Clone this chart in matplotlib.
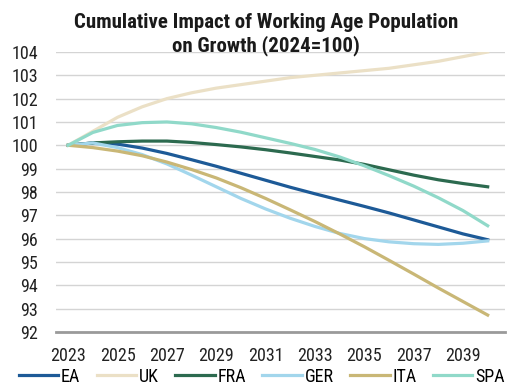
import matplotlib
matplotlib.use("Agg")
import matplotlib.pyplot as plt

years = list(range(2023, 2041))

ea = [100, 100.1, 100.05, 99.88, 99.65, 99.38, 99.1, 98.8, 98.5, 98.2,
      97.92, 97.65, 97.38, 97.1, 96.8, 96.5, 96.2, 95.95]
uk = [100, 100.6, 101.2, 101.65, 102.0, 102.25, 102.45, 102.6, 102.75, 102.9,
      103.0, 103.1, 103.2, 103.3, 103.45, 103.6, 103.8, 104.0]
fra = [100, 100.1, 100.15, 100.18, 100.18, 100.12, 100.03, 99.93, 99.81, 99.67,
       99.52, 99.37, 99.18, 98.95, 98.72, 98.52, 98.36, 98.22]
ger = [100, 100.1, 99.9, 99.6, 99.2, 98.72, 98.22, 97.72, 97.27, 96.87,
       96.52, 96.22, 96.0, 95.86, 95.78, 95.75, 95.8, 95.9]
ita = [100, 99.9, 99.75, 99.55, 99.28, 98.96, 98.6, 98.18, 97.72, 97.23,
       96.73, 96.2, 95.65, 95.07, 94.48, 93.88, 93.3, 92.72]
spa = [100, 100.55, 100.85, 100.97, 101.0, 100.92, 100.76, 100.56, 100.32, 100.08,
       99.82, 99.5, 99.12, 98.7, 98.25, 97.75, 97.2, 96.55]

labels = ["EA", "UK", "FRA", "GER", "ITA", "SPA"]
colors = ["#1d5a97", "#ebe0c6", "#2c6a4f", "#a2d6ec", "#c9b776", "#90d9c9"]

xticks = list(range(2023, 2041, 2))
yticks = list(range(92, 105))

plt.rcParams['font.family'] = ["Roboto Condensed", "Roboto", "DejaVu Sans"]

fig = plt.figure(figsize=(5.08, 3.85), dpi=100)
ax = fig.add_axes([0.11, 0.138, 0.884, 0.727])

for vals, lab, col in zip([ea, uk, fra, ger, ita, spa], labels, colors):
    ax.plot(years, vals, color=col, lw=2.3, label=lab, solid_joinstyle="round")

ax.set_xlim(2022.5, 2040.7)
ax.set_ylim(92, 104)
ax.set_xticks(xticks)
ax.set_yticks(yticks)
ax.tick_params(axis='both', length=0, labelsize=13, colors="#222222")
ax.tick_params(axis='x', pad=11)
ax.tick_params(axis='y', pad=13)
ax.grid(axis='y', color="#d4d4d4", lw=1)
ax.set_axisbelow(True)
for s in ["top", "right", "left"]:
    ax.spines[s].set_visible(False)
ax.spines["bottom"].set_color("#9a9a9a")
ax.spines["bottom"].set_linewidth(2)

fig.text(0.524, 0.965, "Cumulative Impact of Working Age Population\non Growth (2024=100)",
         ha="center", va="top", fontsize=15, fontweight="bold", color="#1a1a1a",
         linespacing=1.2)

fig.legend(loc="center", bbox_to_anchor=(0.515, 0.022), ncol=6, frameon=False,
           fontsize=13, handlelength=2.2, columnspacing=0.9, handletextpad=0.15,
           borderpad=0, borderaxespad=0)

fig.savefig("out.png", dpi=100)
